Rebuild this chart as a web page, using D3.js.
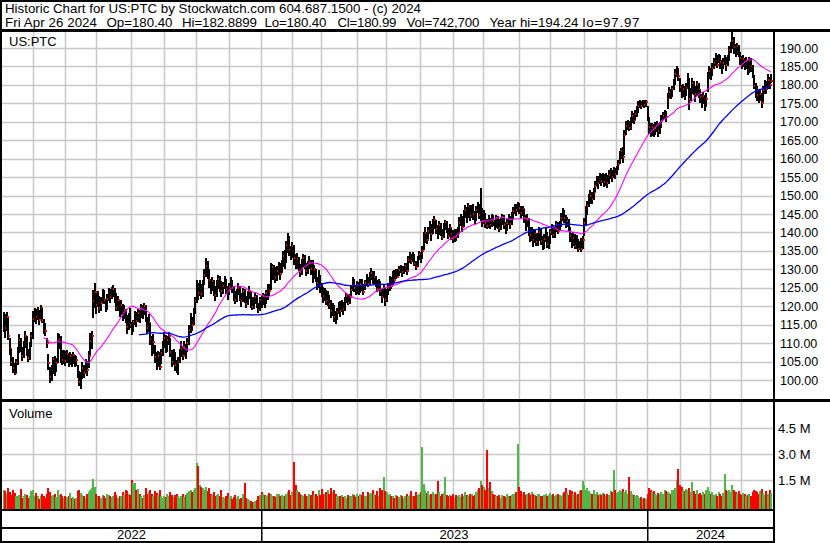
<!DOCTYPE html>
<html><head><meta charset="utf-8">
<script src="https://cdn.jsdelivr.net/npm/d3@7"></script>
<style>
body{margin:0;background:#fff;}
svg{display:block;}
text{font-family:"Liberation Sans",Arial,sans-serif;fill:#000;}
</style>
</head><body>
<svg id="chart" width="830" height="543"></svg>
<script>
// ---------------- DATA ----------------
const symbol = "US:PTC";
const titleText = "Historic Chart for US:PTC by Stockwatch.com 604.687.1500 - (c) 2024";
const quoteFields = ["Fri Apr 26 2024","Op=180.40","Hi=182.8899","Lo=180.40","Cl=180.99","Vol=742,700","Year hi=194.24","lo=97.97"];
const firstDay = "2022-05-04", lastDay = "2024-04-26";
const holidays = ["2022-05-30","2022-06-20","2022-07-04","2022-09-05","2022-11-24","2022-12-26","2023-01-02","2023-01-16","2023-02-20","2023-04-07","2023-05-29","2023-06-19","2023-07-04","2023-09-04","2023-11-23","2023-12-25","2024-01-01","2024-01-15","2024-02-19","2024-03-29"];
const years = ["2022","2023","2024"];
const priceTicks = [100,105,110,115,120,125,130,135,140,145,150,155,160,165,170,175,180,185,190];
const volumeTicks = [1.5,3.0,4.5];
const volumeTickLabels = ["1.5 M","3.0 M","4.5 M"];
const maShortPeriod = 27, maLongPeriod = 89;

const closes = [
116.5,114.0,117.2,112.0,108.5,105.0,103.2,102.0,104.8,107.5,
110.8,108.2,106.5,109.4,112.0,107.8,106.0,109.5,111.8,116.5,
118.2,117.0,118.8,116.4,119.5,116.2,114.0,113.2,110.0,104.5,
100.8,102.5,105.6,103.2,104.5,109.8,111.2,107.0,105.5,106.8,
105.2,107.0,104.6,106.4,105.0,106.8,104.5,105.4,102.0,99.5,
100.5,103.2,101.8,104.5,102.8,106.5,110.5,112.0,121.5,123.8,
120.2,122.5,119.5,121.0,123.4,121.8,119.5,122.0,124.2,122.6,
124.0,124.8,122.2,119.5,121.6,118.5,120.2,117.4,119.0,116.2,
114.5,116.8,115.0,113.2,115.8,117.5,116.0,118.2,117.0,119.4,
118.6,120.0,116.5,114.2,115.5,111.0,108.5,110.2,106.2,104.8,
106.5,103.5,107.2,109.4,111.5,108.5,110.8,112.0,107.5,105.0,
106.5,104.0,103.2,104.8,107.2,108.5,106.5,109.0,107.8,110.0,
113.5,116.0,114.8,118.6,121.5,124.8,123.5,125.6,123.2,126.0,
128.5,131.0,129.5,127.2,125.0,126.8,124.5,123.0,125.5,127.5,
126.0,124.2,125.5,127.0,124.8,123.5,125.2,126.8,125.0,123.2,
121.8,123.5,125.0,123.0,121.5,124.0,122.5,120.5,122.8,124.2,
121.5,119.8,121.0,122.6,120.2,119.0,121.8,120.5,122.8,121.2,
123.5,125.2,124.0,128.5,130.5,129.0,127.8,129.5,131.0,128.6,
131.2,133.5,132.0,136.5,138.0,135.2,134.0,136.2,133.0,131.5,
132.8,130.5,129.2,131.5,133.2,131.0,129.5,130.8,132.0,130.2,
128.8,130.0,127.5,126.2,127.8,125.5,124.0,122.8,123.6,121.5,
122.5,120.5,118.6,119.5,117.0,116.8,118.4,120.0,118.8,120.6,
119.2,121.5,122.8,121.0,122.4,124.5,126.5,125.0,123.8,125.8,
124.2,126.0,125.2,123.8,126.2,127.5,126.0,128.2,129.0,127.4,
128.0,126.2,124.8,126.5,124.0,122.5,124.6,121.8,123.5,125.0,
126.8,125.6,128.4,127.2,129.0,128.0,129.8,130.5,129.2,130.0,
131.0,129.5,132.5,133.8,132.2,134.0,131.5,130.5,132.8,134.2,
133.0,135.0,138.5,139.8,138.0,140.5,141.5,139.5,142.5,143.5,
141.0,139.5,142.0,140.4,138.8,141.5,142.8,140.5,139.0,141.2,
139.5,138.2,140.0,138.8,140.2,142.5,143.8,141.5,144.8,146.2,
145.0,147.2,144.5,146.5,145.0,143.5,146.0,147.0,144.8,145.5,
143.2,144.8,142.5,141.8,143.5,142.0,144.2,143.0,141.5,143.8,
142.6,141.2,143.0,144.2,142.0,140.8,142.5,143.8,142.2,144.5,
145.8,147.0,146.0,147.5,146.6,145.2,146.4,144.0,142.2,143.5,
141.0,139.2,140.5,138.0,139.5,137.5,138.8,140.2,137.8,136.5,
138.2,139.8,136.8,137.5,140.0,141.5,139.2,140.8,142.2,140.5,
142.5,143.8,145.5,144.0,142.5,143.2,141.0,139.0,137.2,138.5,
136.2,137.8,135.6,136.8,135.5,138.0,142.5,145.8,147.2,148.5,
150.0,149.2,151.0,152.5,154.2,153.5,155.0,154.0,155.4,153.8,
154.8,153.5,155.5,156.2,155.0,156.8,155.8,157.2,158.5,161.0,
162.0,160.5,166.5,168.8,169.5,168.4,170.0,171.5,170.5,172.2,
173.0,174.4,175.0,174.2,175.2,174.6,175.4,171.0,168.5,167.2,
168.5,167.0,168.2,169.0,167.5,168.8,170.2,171.5,172.0,171.2,
176.5,178.0,177.2,178.8,180.2,183.0,184.0,182.5,179.5,178.2,
178.8,177.5,179.2,181.5,176.2,178.0,180.5,179.0,177.5,180.2,
178.5,176.8,175.2,177.0,174.5,176.2,182.5,183.8,182.6,184.5,
186.0,187.2,185.5,187.8,186.2,184.5,186.0,187.2,185.5,187.0,
189.5,190.8,192.0,190.2,189.0,190.5,188.5,187.2,186.0,187.0,
185.2,186.5,184.0,186.8,185.0,182.5,179.8,178.0,177.2,176.0,
177.5,175.2,178.5,180.0,178.8,181.2,180.1,180.99];

const highs = [
118.3,117.8,118.5,116.8,111.5,108.5,106.2,104.6,105.8,109.0,
112.6,111.5,109.0,110.5,113.2,112.0,108.5,110.2,113.0,118.8,
119.5,119.2,119.8,119.0,120.3,119.6,116.5,115.4,111.5,107.0,
103.5,104.0,106.2,106.5,106.0,112.7,112.5,111.8,108.0,108.2,
107.8,108.0,107.2,107.6,107.0,107.5,106.8,106.5,104.0,102.5,
102.2,104.8,104.0,105.8,105.2,107.8,112.8,113.2,124.5,126.3,
123.5,124.0,122.8,122.5,124.8,124.5,122.0,123.2,125.0,124.6,
125.2,125.8,125.0,123.6,122.8,121.5,121.8,120.5,120.4,119.2,
117.5,118.2,119.5,115.6,116.4,118.6,118.4,119.2,119.0,120.5,
120.2,121.0,120.2,117.2,117.8,115.5,111.8,112.5,109.5,107.5,
107.8,107.5,108.5,110.6,113.0,112.2,112.0,113.0,111.5,108.2,
108.5,107.6,105.5,106.2,108.4,110.5,109.2,110.5,109.8,111.5,
114.8,118.2,117.0,119.5,122.6,127.1,126.4,127.0,126.0,127.0,
130.0,133.0,132.2,130.0,127.5,128.0,127.0,125.4,127.0,128.5,
128.2,126.8,126.5,128.2,127.5,125.5,126.4,128.0,127.2,125.6,
124.2,124.6,126.2,125.4,123.6,125.0,124.8,122.8,124.0,125.5,
123.9,122.5,122.4,123.6,123.0,121.0,122.6,123.0,123.6,123.2,
124.4,126.0,126.0,131.7,131.5,131.2,130.5,131.0,132.0,131.8,
132.5,135.0,135.2,137.8,139.8,139.0,136.2,137.4,136.5,134.2,
134.5,133.4,131.4,132.8,134.2,133.8,131.8,132.2,133.5,132.5,
132.5,131.2,130.2,128.0,129.8,128.5,126.2,125.2,125.0,124.5,
124.2,123.0,121.7,121.0,120.2,118.6,119.6,121.2,121.5,121.8,
121.2,122.4,123.6,123.4,123.2,125.6,128.0,127.5,125.6,126.8,
126.5,127.4,127.5,126.0,127.0,128.6,128.0,129.2,130.4,129.6,
129.5,128.2,127.0,127.4,126.8,124.6,125.8,125.0,124.6,126.2,
128.2,127.8,129.6,129.8,130.2,130.0,131.0,131.2,130.8,131.0,
131.6,131.6,133.5,134.7,134.2,134.6,134.2,132.2,133.5,135.0,
134.8,136.2,140.0,141.5,140.2,141.4,143.0,142.4,143.6,144.4,
143.5,142.0,143.0,142.6,141.0,142.6,143.4,143.2,141.2,142.4,
141.2,140.6,141.0,140.8,141.5,144.2,145.0,144.5,146.0,147.5,
146.8,148.0,147.5,147.4,147.6,145.8,147.2,148.2,147.6,152.0,
146.7,146.0,145.2,143.6,144.6,144.0,145.0,144.8,143.4,144.8,
144.5,143.6,143.8,145.0,144.8,142.8,143.6,145.0,144.4,145.6,
147.0,147.8,147.6,148.2,148.0,147.2,147.2,146.4,144.8,145.0,
144.0,141.5,141.6,141.0,140.8,139.6,139.8,141.5,141.2,139.0,
139.6,141.5,140.2,139.0,140.8,142.4,142.0,141.6,143.0,142.8,
143.2,145.2,146.6,146.2,144.8,144.2,143.6,141.5,139.8,140.2,
139.5,139.2,138.2,137.8,138.5,139.0,143.8,147.2,148.4,150.4,
151.5,151.0,152.0,154.0,155.4,155.2,156.0,155.8,156.2,155.8,
156.0,155.5,156.8,157.5,156.8,157.7,157.4,158.0,159.6,162.0,
163.0,163.2,167.8,170.2,170.5,170.2,171.4,172.8,172.5,173.2,
174.4,175.5,175.9,175.6,176.0,175.8,176.0,174.2,171.3,169.6,
169.8,169.5,170.0,170.2,169.6,170.0,171.8,172.6,173.2,173.0,
177.8,179.4,179.0,179.6,181.5,184.2,185.0,184.5,181.8,180.0,
180.2,179.8,180.4,183.2,182.0,179.2,181.8,181.0,179.6,181.0,
180.6,178.6,177.4,178.0,177.2,177.8,183.6,185.0,184.6,186.0,
187.2,188.6,188.0,188.4,188.2,186.8,187.2,188.0,187.6,188.2,
190.6,191.5,194.24,193.0,191.2,191.4,190.8,188.8,187.8,188.0,
187.4,187.6,186.8,187.6,187.2,185.4,182.6,180.5,179.6,178.8,
179.0,177.8,179.6,181.2,181.0,183.0,182.2,182.89];

const lows = [
113.0,111.5,113.2,110.8,106.8,103.8,101.8,101.4,101.9,104.0,
107.2,107.5,105.2,106.0,108.6,106.5,104.8,105.5,108.9,111.2,
115.6,115.2,116.3,115.0,116.5,115.4,112.6,112.0,108.6,102.8,
99.2,99.8,101.5,101.0,102.2,104.6,108.5,104.6,104.0,104.4,
103.8,104.5,103.6,104.2,103.6,104.4,103.5,103.8,100.5,98.4,
97.5,100.2,100.5,101.8,101.2,103.2,106.8,108.5,116.8,119.5,
118.0,119.8,118.2,118.6,120.8,120.5,118.4,119.0,121.5,121.0,
122.0,122.4,121.0,118.6,118.8,117.0,117.6,116.0,116.5,115.5,
112.4,113.6,114.0,112.2,113.0,115.0,114.5,115.8,115.4,116.8,
116.6,117.5,115.6,112.4,113.0,109.5,106.4,107.0,104.6,102.8,
103.4,102.7,104.4,106.4,108.8,107.4,107.6,109.5,106.2,103.5,
104.0,102.5,101.8,101.4,104.5,106.2,105.4,106.8,105.8,107.5,
109.5,112.8,113.2,115.0,117.8,121.0,121.7,122.8,121.9,122.6,
125.8,127.8,127.5,125.0,123.2,124.2,122.8,121.5,122.5,124.6,
123.8,122.4,123.4,124.6,123.2,121.8,123.0,124.4,123.6,121.4,
120.6,121.2,123.0,121.4,119.8,121.2,121.0,119.5,120.2,122.0,
119.5,119.0,119.2,120.6,119.4,118.2,118.6,119.5,120.4,119.6,
120.5,121.8,122.8,124.4,127.0,127.2,126.2,126.8,128.5,127.2,
129.0,130.5,130.2,131.7,134.5,133.6,132.5,133.0,131.2,130.0,
130.2,129.6,128.0,128.4,130.6,130.0,128.2,128.6,130.0,128.5,
126.3,127.5,126.6,124.4,125.0,123.6,122.6,121.0,121.5,120.2,
120.0,119.2,116.8,117.4,115.8,115.2,116.3,117.8,117.2,118.4,
117.5,118.8,120.8,120.2,120.6,122.5,124.0,123.8,123.0,123.2,
123.0,123.6,124.0,123.0,124.4,125.6,125.2,125.8,127.0,126.0,
126.0,125.2,123.8,124.2,122.8,121.0,122.2,120.0,121.2,123.0,
124.2,124.6,125.8,126.4,127.4,127.6,128.2,129.0,128.0,128.6,
129.2,128.4,129.8,131.6,131.5,132.0,130.8,129.8,130.6,132.6,
131.8,132.8,135.2,137.2,137.0,138.2,139.5,137.8,139.6,141.0,
139.5,138.2,139.4,139.0,138.0,138.5,140.6,139.8,138.2,138.8,
138.0,137.2,137.5,137.6,138.6,139.5,141.8,140.2,141.6,143.8,
142.6,144.0,143.2,144.0,143.4,142.2,143.2,145.2,143.6,143.0,
141.6,142.4,141.2,140.8,141.2,141.0,141.6,141.8,140.6,141.2,
141.0,140.0,140.6,142.0,141.0,139.6,140.4,142.0,141.0,142.0,
143.6,145.0,144.5,145.6,145.0,144.0,144.4,142.6,140.5,141.6,
139.0,137.4,137.8,136.0,137.2,136.2,136.4,137.8,136.6,135.2,
135.6,137.4,135.8,135.6,137.0,139.4,138.4,138.6,140.2,139.6,
140.4,141.6,143.2,142.6,141.2,141.4,140.0,137.5,135.8,136.4,
135.4,135.6,134.8,135.2,134.8,135.4,139.0,141.8,144.6,146.9,
147.8,147.6,148.8,151.0,152.6,151.8,153.0,152.5,153.4,152.4,
152.5,152.0,153.2,154.4,153.6,154.8,154.4,155.6,156.8,158.6,
159.8,158.8,161.0,166.5,167.8,167.4,167.8,169.6,169.4,170.4,
171.4,172.5,173.8,173.4,174.0,173.6,174.0,170.2,166.8,165.9,
166.2,165.8,166.5,167.2,166.0,166.8,168.4,170.5,170.8,170.0,
173.5,176.4,176.2,176.8,178.6,180.0,182.2,181.0,178.2,176.5,
176.8,176.0,177.0,178.8,173.2,175.6,177.4,177.2,175.4,177.0,
176.4,175.0,173.6,174.8,173.0,174.0,178.0,181.6,181.3,182.4,
184.2,185.2,184.6,185.8,184.4,183.0,184.2,185.4,183.8,185.0,
186.4,188.6,189.6,188.4,187.6,188.2,187.6,185.4,184.2,184.8,
184.0,184.4,182.6,183.2,183.6,182.0,178.8,176.4,175.6,175.0,
175.5,173.7,175.4,177.6,177.4,179.0,178.8,180.40];

// volume in millions of shares
const volumes = [
0.95,0.85,0.70,1.05,0.80,0.65,0.90,0.75,0.55,0.60,
0.62,1.00,0.45,0.58,0.70,0.62,0.48,0.55,0.85,0.90,
0.60,0.75,0.55,0.40,0.58,0.72,0.60,0.45,0.68,1.05,
0.80,0.55,0.62,0.70,0.50,0.95,0.65,0.72,0.58,0.48,
0.55,0.52,0.60,0.75,0.45,0.50,0.40,0.48,0.85,0.90,
0.75,0.62,0.55,0.48,0.70,0.80,0.92,1.05,1.55,1.10,
0.72,0.60,0.55,0.48,0.65,0.58,0.45,0.70,0.62,0.55,
0.52,0.60,0.78,0.65,0.48,0.58,0.55,0.80,0.62,0.95,
0.85,0.70,0.62,1.50,1.30,1.35,0.90,1.00,0.70,0.55,
0.48,0.62,1.05,0.68,0.80,0.95,0.72,0.60,0.85,0.75,
0.65,0.90,0.55,0.48,0.60,0.52,0.70,0.58,0.80,0.65,
0.52,0.62,0.72,0.58,0.45,0.55,0.68,0.50,0.62,0.75,
0.85,0.95,0.78,0.90,1.05,2.50,2.30,1.20,1.10,1.05,
0.95,1.10,0.85,1.05,0.72,0.65,0.80,0.58,0.62,0.70,
0.55,0.95,0.52,0.45,0.60,0.75,0.48,0.58,0.42,0.50,
0.62,0.48,0.55,0.40,0.45,0.70,1.30,0.45,0.38,0.32,
0.28,0.25,0.22,0.30,0.35,0.55,0.62,0.80,0.72,0.65,
0.58,0.62,0.75,0.70,0.55,0.60,0.50,0.68,0.72,0.60,
0.62,0.55,0.58,0.70,0.78,0.95,0.65,0.80,2.56,1.20,
0.95,0.80,0.70,0.62,0.55,0.68,0.58,0.60,0.72,0.62,
0.88,0.65,0.70,0.58,0.95,0.62,1.00,0.72,0.68,0.80,
0.90,0.70,1.05,0.80,0.95,0.72,0.60,0.55,0.58,0.65,
0.52,0.60,0.48,0.65,0.58,0.55,0.72,0.62,0.50,0.68,
0.58,0.70,0.62,0.78,0.55,0.60,0.82,0.68,0.75,0.95,
0.70,0.62,0.85,0.58,1.05,0.90,1.70,0.85,0.78,0.65,
0.72,0.55,0.60,0.48,0.62,0.58,0.50,0.65,0.55,0.48,
0.60,0.70,0.55,0.62,0.85,0.58,0.60,0.78,0.65,0.72,
0.80,3.42,1.25,0.90,0.75,0.85,0.62,0.70,0.78,0.68,
0.72,1.44,0.80,0.60,0.68,0.75,1.70,0.65,0.58,0.62,
0.55,0.70,0.48,0.62,0.58,0.65,0.52,0.72,0.60,0.80,
0.65,0.58,0.72,0.68,0.55,0.62,0.78,0.90,1.05,1.44,
1.20,1.10,0.95,3.23,1.05,1.40,0.85,0.70,0.62,0.58,
0.55,0.62,0.48,0.65,0.58,0.52,0.70,0.60,0.55,0.62,
0.72,0.68,0.80,3.58,1.10,0.85,0.70,0.78,0.62,0.68,
0.75,0.62,0.80,0.70,0.65,0.58,0.72,0.68,0.60,0.55,
0.62,0.70,0.58,0.65,0.75,0.62,0.68,0.55,0.62,0.70,
0.65,0.58,0.72,0.80,1.05,0.75,0.62,0.90,0.85,0.70,
0.78,0.65,0.72,0.85,0.90,1.44,1.20,0.95,1.05,0.85,
0.75,0.68,0.90,0.72,0.80,0.65,0.70,0.62,0.75,0.68,
0.60,0.72,0.65,0.85,0.78,2.08,0.95,0.75,0.80,0.90,
0.85,1.00,0.78,0.95,0.70,1.70,0.85,0.72,0.65,0.58,
0.62,0.55,0.48,0.52,0.40,0.45,0.38,0.72,1.05,0.90,
0.78,0.85,0.70,0.62,0.75,0.68,0.80,0.72,0.95,0.88,
0.82,0.75,0.70,0.95,0.90,1.05,1.50,2.13,1.20,1.10,
0.95,0.85,1.00,0.90,1.05,0.78,1.40,0.85,0.72,0.90,
0.68,0.75,0.62,0.82,0.70,0.95,1.10,0.85,0.72,0.78,
0.65,0.72,0.60,0.80,0.68,0.58,0.75,1.85,0.92,0.85,
0.95,0.80,1.20,0.90,0.78,0.72,0.85,0.68,0.62,0.75,
0.70,0.58,0.65,0.72,0.60,0.80,0.95,0.85,0.78,0.70,
0.88,1.00,0.75,0.62,0.85,0.70,0.92,0.74];

// ---------------- LAYOUT ----------------
const W = 830, H = 543;
const plotL = 2, plotR = 774;
const priceTop = 32, priceBot = 399;
const volTop = 402, volBot = 509;
const gridColor = "#c8c8c8";
const upColor = "#4db848", downColor = "#ff0000", flatColor = "#a0a0a0";

const svg = d3.select("#chart");
svg.append("rect").attr("width", W).attr("height", H).attr("fill", "#fff");

// trading days
const tradingDays = [];
{
  const d = new Date(firstDay + "T12:00:00Z"), end = new Date(lastDay + "T12:00:00Z");
  while (d <= end) {
    const wd = d.getUTCDay(), s = d.toISOString().slice(0, 10);
    if (wd !== 0 && wd !== 6 && !holidays.includes(s)) tradingDays.push(new Date(d));
    d.setUTCDate(d.getUTCDate() + 1);
  }
}
const N = closes.length;
const x = d3.scaleLinear().domain([0, N - 1]).range([3.2, 770.6]);
const y = d3.scaleLinear().domain([100, 190]).range([380, 48]);
const yv = d3.scaleLinear().domain([0, 4.5]).range([506, 428]);

// month / year boundaries
const monthStarts = [], yearStarts = [];
for (let i = 1; i < tradingDays.length; i++) {
  if (tradingDays[i].getUTCMonth() !== tradingDays[i - 1].getUTCMonth()) monthStarts.push(i);
  if (tradingDays[i].getUTCFullYear() !== tradingDays[i - 1].getUTCFullYear()) yearStarts.push(i);
}

const g = svg.append("g");
g.selectAll("line.vg").data(monthStarts).join("line")
  .attr("x1", i => Math.round(x(i)) + 0.5).attr("x2", i => Math.round(x(i)) + 0.5)
  .attr("y1", priceTop).attr("y2", volBot)
  .attr("stroke", gridColor).attr("stroke-width", 1.5);
g.selectAll("line.hg").data(priceTicks).join("line")
  .attr("x1", plotL).attr("x2", plotR)
  .attr("y1", d => Math.round(y(d)) + 0.5).attr("y2", d => Math.round(y(d)) + 0.5)
  .attr("stroke", gridColor).attr("stroke-width", 1.5);
g.selectAll("line.vhg").data(volumeTicks).join("line")
  .attr("x1", plotL).attr("x2", plotR)
  .attr("y1", d => Math.round(yv(d)) + 0.5).attr("y2", d => Math.round(yv(d)) + 0.5)
  .attr("stroke", gridColor).attr("stroke-width", 1.5);

const defs = svg.append("defs");
defs.append("clipPath").attr("id", "pclip").append("rect")
  .attr("x", plotL).attr("y", priceTop).attr("width", plotR - plotL).attr("height", priceBot - priceTop);

// price bars
const pg = svg.append("g").attr("clip-path", "url(#pclip)").attr("shape-rendering", "crispEdges");
const idx = d3.range(N);
idx.forEach(i => {
  const bx = Math.floor(x(i));
  const yt = Math.round(y(highs[i])), yb = Math.round(y(lows[i]));
  pg.append("rect").attr("x", bx).attr("y", yt).attr("width", 2).attr("height", Math.max(1, yb - yt)).attr("fill", "#000");
  pg.append("rect").attr("x", bx + 1).attr("y", Math.round(y(closes[i])) - 1).attr("width", 2).attr("height", 2).attr("fill", "#ff0000");
});

// moving averages
function movingAvg(p) {
  const out = [];
  for (let i = p - 1; i < N; i++) out.push([i, d3.mean(closes.slice(i - p + 1, i + 1))]);
  return out;
}
const line = d3.line().x(d => x(d[0])).y(d => y(d[1]));
pg.append("path").datum(movingAvg(maShortPeriod)).attr("d", line)
  .attr("fill", "none").attr("stroke", "#ff00ff").attr("stroke-width", 1.1).attr("shape-rendering", "auto");
pg.append("path").datum(movingAvg(maLongPeriod)).attr("d", line)
  .attr("fill", "none").attr("stroke", "#0000ff").attr("stroke-width", 1.3).attr("shape-rendering", "auto");

// volume bars
const vg = svg.append("g").attr("shape-rendering", "crispEdges");
idx.forEach(i => {
  const prev = i > 0 ? closes[i - 1] : closes[i] - 1;
  const col = closes[i] > prev ? upColor : (closes[i] < prev ? downColor : flatColor);
  const top = Math.round(yv(volumes[i]));
  vg.append("rect").attr("x", Math.floor(x(i))).attr("y", top).attr("width", 2)
    .attr("height", volBot - top).attr("fill", col);
});

// frame lines
const blk = (x0, y0, w, h) => svg.append("rect").attr("x", x0).attr("y", y0).attr("width", w).attr("height", h).attr("fill", "#000");
blk(0, 0, W, 2);
blk(0, 29, W, 3);
blk(0, 0, 2, H);
blk(plotR - 1, 29, 2, H - 29);
blk(0, 399, W, 3);
blk(0, 509, plotR, 2);
blk(0, 527, plotR, 2);
blk(0, 541, plotR, 2);

// year dividers and labels
const yearBounds = [plotL].concat(yearStarts.map(i => Math.round(x(i)))).concat([plotR]);
yearStarts.forEach(i => blk(Math.round(x(i)), 509, 1.5, 34));
svg.selectAll("text.year").data(years).join("text")
  .attr("x", (d, k) => (yearBounds[k] + yearBounds[k + 1]) / 2)
  .attr("y", 539).attr("text-anchor", "middle").attr("font-size", 13).text(d => d);

// axis labels
svg.selectAll("text.pl").data(priceTicks).join("text")
  .attr("x", 780).attr("y", d => y(d) + 4.5).attr("font-size", 12.5).text(d => d.toFixed(2));
svg.selectAll("text.vl").data(volumeTicks).join("text")
  .attr("x", 778).attr("y", d => yv(d) + 5).attr("font-size", 13).text((d, k) => volumeTickLabels[k]);

svg.append("text").attr("x", 9).attr("y", 46).attr("font-size", 13).text(symbol);
svg.append("text").attr("x", 9).attr("y", 418).attr("font-size", 13).text("Volume");

// header
svg.append("text").attr("x", 5).attr("y", 13).attr("font-size", 13.3)
  .attr("textLength", 416).attr("lengthAdjust", "spacing").text(titleText);
const fieldX = [5, 106.5, 182, 264.5, 337.5, 406.5, 489.5, 582.5];
const fieldW = [92, 66, 75, 62, 59, 73, 89, 57];
svg.selectAll("text.qf").data(quoteFields).join("text")
  .attr("x", (d, k) => fieldX[k]).attr("y", 26.5).attr("font-size", 13.3)
  .attr("textLength", (d, k) => fieldW[k]).attr("lengthAdjust", "spacing").text(d => d);
</script>
</body></html>
